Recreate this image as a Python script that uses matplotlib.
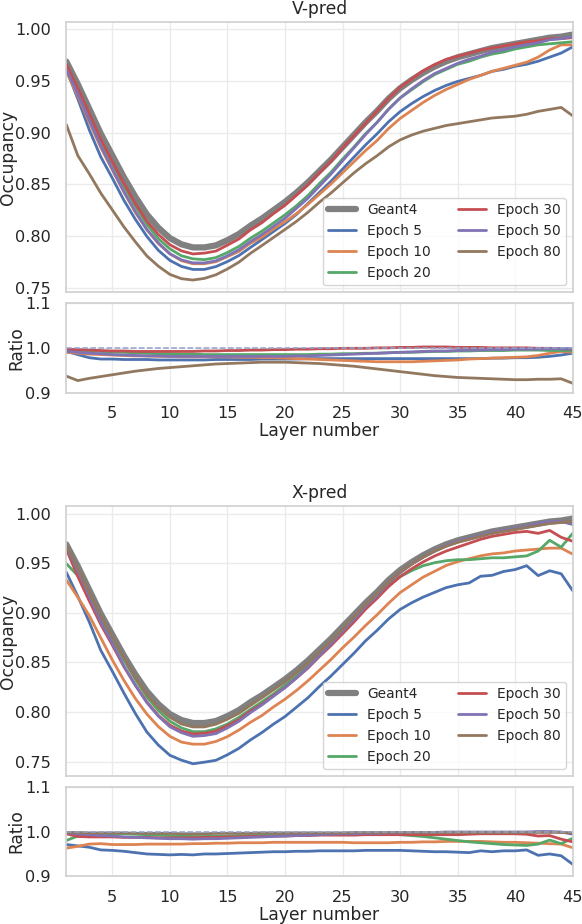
import matplotlib
matplotlib.use('Agg')
import matplotlib.pyplot as plt
import seaborn as sns

sns.set_theme(style='whitegrid')
plt.rcParams['font.family'] = ['DejaVu Sans']

layers = list(range(1, 46))

# Geant4 occupancy per layer (same reference for both panels)
geant4 = [0.969, 0.947, 0.923, 0.899, 0.878, 0.857, 0.838, 0.821, 0.808, 0.798,
          0.792, 0.789, 0.789, 0.791, 0.796, 0.802, 0.810, 0.817, 0.825, 0.833,
          0.842, 0.852, 0.863, 0.874, 0.886, 0.898, 0.910, 0.921, 0.933, 0.943,
          0.951, 0.958, 0.964, 0.969, 0.973, 0.976, 0.979, 0.982, 0.984, 0.986,
          0.988, 0.990, 0.992, 0.993, 0.995]

epochs = ['Epoch 5', 'Epoch 10', 'Epoch 20', 'Epoch 30', 'Epoch 50', 'Epoch 80']

# ratio model / Geant4, V-pred
v_ep5 = [0.992, 0.985, 0.978, 0.975, 0.975, 0.974, 0.974, 0.974, 0.973, 0.973,
         0.973, 0.973, 0.973, 0.974, 0.974, 0.974, 0.974, 0.975, 0.975, 0.975,
         0.975, 0.976, 0.976, 0.976, 0.976, 0.976, 0.976, 0.976, 0.976, 0.976,
         0.976, 0.976, 0.976, 0.976, 0.976, 0.976, 0.976, 0.977, 0.977, 0.978,
         0.978, 0.979, 0.981, 0.984, 0.988]
v_ep10 = [0.990, 0.988, 0.986, 0.985, 0.984, 0.983, 0.982, 0.982, 0.981, 0.981,
          0.980, 0.980, 0.980, 0.980, 0.980, 0.979, 0.979, 0.978, 0.978, 0.977,
          0.976, 0.975, 0.974, 0.973, 0.972, 0.971, 0.970, 0.969, 0.969, 0.969,
          0.969, 0.970, 0.971, 0.972, 0.973, 0.975, 0.976, 0.977, 0.978, 0.979,
          0.980, 0.983, 0.988, 0.992, 0.990]
v_ep20 = [0.995, 0.994, 0.993, 0.992, 0.991, 0.990, 0.989, 0.988, 0.987, 0.987,
          0.986, 0.986, 0.985, 0.985, 0.985, 0.985, 0.985, 0.985, 0.985, 0.985,
          0.985, 0.985, 0.986, 0.986, 0.987, 0.987, 0.988, 0.988, 0.989, 0.990,
          0.990, 0.991, 0.992, 0.992, 0.993, 0.993, 0.994, 0.994, 0.994, 0.995,
          0.995, 0.995, 0.994, 0.994, 0.993]
v_ep30 = [0.997, 0.996, 0.995, 0.994, 0.993, 0.993, 0.992, 0.992, 0.992, 0.992,
          0.992, 0.992, 0.993, 0.993, 0.994, 0.994, 0.995, 0.995, 0.996, 0.996,
          0.997, 0.997, 0.998, 0.998, 0.999, 0.999, 0.999, 1.000, 1.000, 1.001,
          1.001, 1.002, 1.002, 1.002, 1.001, 1.001, 1.001, 1.000, 1.000, 1.000,
          1.000, 0.999, 0.999, 0.998, 0.997]
v_ep50 = [0.992, 0.990, 0.988, 0.987, 0.985, 0.984, 0.983, 0.982, 0.982, 0.981,
          0.981, 0.981, 0.981, 0.981, 0.981, 0.981, 0.981, 0.981, 0.981, 0.981,
          0.982, 0.982, 0.983, 0.984, 0.985, 0.986, 0.987, 0.988, 0.989, 0.990,
          0.991, 0.992, 0.993, 0.993, 0.994, 0.995, 0.995, 0.996, 0.996, 0.997,
          0.997, 0.997, 0.998, 0.998, 0.998]
v_ep80 = [0.937, 0.927, 0.932, 0.936, 0.940, 0.944, 0.948, 0.951, 0.954, 0.956,
          0.958, 0.960, 0.962, 0.964, 0.965, 0.966, 0.967, 0.968, 0.968, 0.968,
          0.967, 0.966, 0.965, 0.963, 0.961, 0.959, 0.956, 0.953, 0.950, 0.947,
          0.944, 0.941, 0.938, 0.936, 0.934, 0.933, 0.932, 0.931, 0.930, 0.929,
          0.929, 0.930, 0.930, 0.931, 0.921]

# ratio model / Geant4, X-pred
x_ep5 = [0.971, 0.968, 0.965, 0.959, 0.958, 0.956, 0.953, 0.950, 0.949, 0.948,
         0.949, 0.948, 0.950, 0.950, 0.951, 0.952, 0.953, 0.954, 0.955, 0.955,
         0.956, 0.956, 0.957, 0.957, 0.957, 0.957, 0.958, 0.958, 0.958, 0.958,
         0.957, 0.956, 0.955, 0.955, 0.954, 0.953, 0.957, 0.955, 0.957, 0.957,
         0.959, 0.947, 0.950, 0.946, 0.927]
x_ep10 = [0.963, 0.967, 0.972, 0.973, 0.971, 0.971, 0.971, 0.972, 0.972, 0.972,
          0.972, 0.973, 0.973, 0.974, 0.974, 0.975, 0.975, 0.975, 0.976, 0.976,
          0.976, 0.976, 0.976, 0.976, 0.976, 0.975, 0.975, 0.975, 0.975, 0.976,
          0.976, 0.977, 0.977, 0.978, 0.978, 0.978, 0.978, 0.977, 0.976, 0.976,
          0.975, 0.974, 0.973, 0.972, 0.964]
x_ep20 = [0.980, 0.990, 0.994, 0.995, 0.995, 0.995, 0.994, 0.993, 0.992, 0.991,
          0.990, 0.989, 0.989, 0.990, 0.990, 0.991, 0.991, 0.992, 0.992, 0.993,
          0.993, 0.994, 0.994, 0.994, 0.995, 0.995, 0.995, 0.994, 0.994, 0.993,
          0.991, 0.989, 0.986, 0.983, 0.980, 0.977, 0.975, 0.973, 0.971, 0.970,
          0.969, 0.972, 0.981, 0.973, 0.985]
x_ep30 = [0.995, 0.989, 0.988, 0.988, 0.988, 0.987, 0.987, 0.987, 0.986, 0.986,
          0.986, 0.986, 0.987, 0.987, 0.988, 0.988, 0.989, 0.989, 0.990, 0.990,
          0.991, 0.991, 0.992, 0.992, 0.992, 0.992, 0.993, 0.993, 0.993, 0.993,
          0.993, 0.993, 0.993, 0.993, 0.993, 0.994, 0.995, 0.995, 0.995, 0.995,
          0.994, 0.990, 0.991, 0.983, 0.977]
x_ep50 = [0.997, 0.995, 0.993, 0.991, 0.990, 0.988, 0.987, 0.986, 0.985, 0.984,
          0.984, 0.983, 0.984, 0.984, 0.985, 0.986, 0.987, 0.988, 0.989, 0.990,
          0.991, 0.992, 0.993, 0.994, 0.995, 0.995, 0.996, 0.996, 0.997, 0.997,
          0.998, 0.998, 0.998, 0.999, 0.999, 0.999, 0.999, 0.999, 0.999, 0.999,
          0.999, 1.000, 1.000, 0.999, 0.994]
x_ep80 = [0.998, 0.998, 0.997, 0.997, 0.997, 0.997, 0.996, 0.996, 0.996, 0.996,
          0.995, 0.995, 0.995, 0.996, 0.996, 0.996, 0.996, 0.997, 0.997, 0.997,
          0.997, 0.997, 0.997, 0.997, 0.997, 0.998, 0.998, 0.998, 0.998, 0.998,
          0.998, 0.998, 0.998, 0.998, 0.998, 0.998, 0.998, 0.998, 0.998, 0.998,
          0.998, 0.998, 0.998, 0.998, 0.997]

vpred = [v_ep5, v_ep10, v_ep20, v_ep30, v_ep50, v_ep80]
xpred = [x_ep5, x_ep10, x_ep20, x_ep30, x_ep50, x_ep80]

colors = sns.color_palette('deep')
TICK = 11.6
LABEL = 12.3

f1 = plt.figure(figsize=(5.82, 9.24), dpi=100)


def draw_panel(ax, axr, ratios, title):
    ax.plot(layers, geant4, color='grey', lw=4.5, label='Geant4')
    for i, r in enumerate(ratios):
        occ = [g * q for g, q in zip(geant4, r)]
        ax.plot(layers, occ, color=colors[i], lw=2.0, label=epochs[i])
        axr.plot(layers, r, color=colors[i], lw=2.0)
    axr.axhline(1.0, color='#8fa2cc', ls='--', lw=1.1)

    ax.set_title(title, fontsize=LABEL, pad=6)
    ax.set_ylabel('Occupancy', fontsize=LABEL, labelpad=-1)
    ax.set_xlim(1, 45)
    ax.set_xticks(range(5, 46, 5))
    ax.set_xticklabels([])
    ax.yaxis.set_major_formatter(matplotlib.ticker.FormatStrFormatter('%.2f'))
    ax.tick_params(labelsize=TICK)
    ax.tick_params(axis='y', pad=5)
    ax.legend(loc='lower right', ncol=2, fontsize=9.9)

    axr.set_xlim(1, 45)
    axr.set_ylim(0.9, 1.1)
    axr.set_yticks([0.9, 1.0, 1.1])
    axr.set_xticks(range(5, 46, 5))
    axr.set_xlabel('Layer number', fontsize=LABEL, labelpad=1)
    axr.set_ylabel('Ratio', fontsize=LABEL, labelpad=0)
    axr.tick_params(labelsize=TICK)
    axr.tick_params(axis='y', pad=5)
    axr.tick_params(axis='x', pad=3.5)

    for a in (ax, axr):
        a.grid(True, color='0.92')
        for s in a.spines.values():
            s.set_color('0.82')


ax1 = f1.add_axes([0.1139, 0.68366, 0.8701, 0.29221])
ax1r = f1.add_axes([0.1139, 0.57500, 0.8701, 0.09708])
ax2 = f1.add_axes([0.1139, 0.16017, 0.8701, 0.29188])
ax2r = f1.add_axes([0.1139, 0.05152, 0.8701, 0.09708])

draw_panel(ax1, ax1r, vpred, 'V-pred')
draw_panel(ax2, ax2r, xpred, 'X-pred')

f1.savefig('out.png', dpi=100)
